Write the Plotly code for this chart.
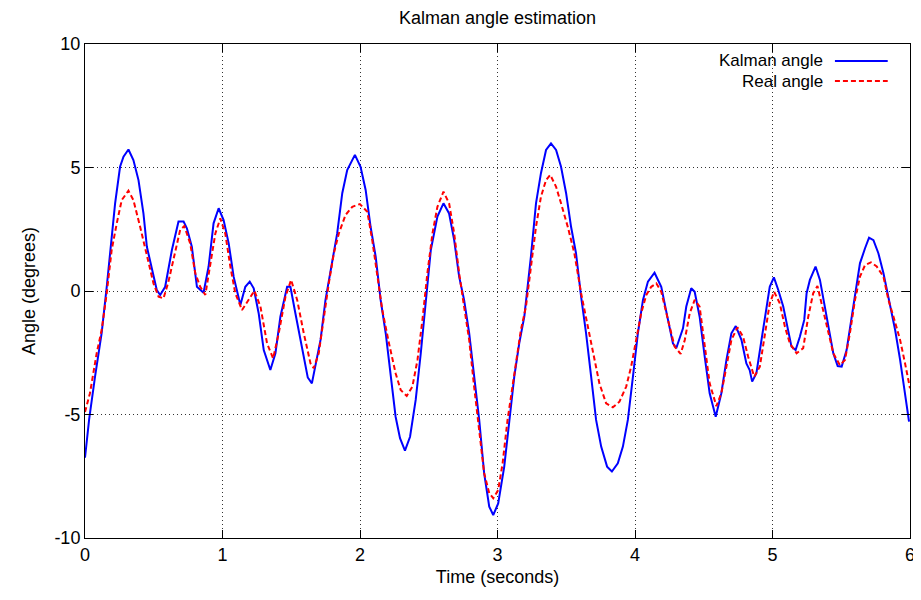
import plotly.graph_objects as go

kalman_t = [0.000,0.030,0.073,0.121,0.158,0.194,0.219,0.255,0.280,0.316,0.352,0.389,0.425,0.450,0.486,0.522,0.547,0.583,0.632,0.680,
            0.717,0.741,0.777,0.814,0.862,0.899,0.935,0.972,1.008,1.045,1.081,1.130,1.166,1.198,1.227,1.263,1.300,1.348,1.385,1.421,
            1.470,1.494,1.530,1.579,1.620,1.650,1.676,1.713,1.749,1.798,1.834,1.871,1.907,1.963,2.004,2.041,2.077,2.114,2.150,2.187,
            2.223,2.259,2.291,2.327,2.364,2.405,2.442,2.478,2.515,2.563,2.607,2.648,2.685,2.721,2.757,2.794,2.830,2.867,2.903,2.940,
            2.969,3.005,3.049,3.085,3.122,3.158,3.195,3.243,3.280,3.316,3.353,3.389,3.426,3.462,3.499,3.535,3.571,3.608,3.644,3.681,
            3.717,3.754,3.797,3.832,3.875,3.912,3.948,3.985,4.021,4.058,4.094,4.142,4.191,4.240,4.276,4.300,4.349,4.373,4.409,4.434,
            4.470,4.507,4.543,4.587,4.628,4.665,4.701,4.733,4.774,4.810,4.834,4.852,4.883,4.920,4.956,4.980,5.010,5.042,5.078,5.102,
            5.138,5.168,5.199,5.231,5.248,5.272,5.313,5.345,5.381,5.418,5.442,5.474,5.503,5.539,5.576,5.612,5.636,5.673,5.702,5.734,
            5.770,5.807,5.843,5.892,5.928,5.964,5.993]
kalman_angle = [-6.75,-5.20,-3.47,-1.71,0.17,2.06,3.55,5.03,5.44,5.73,5.30,4.49,3.14,1.79,0.85,0.04,-0.16,0.17,1.66,2.81,
                2.81,2.54,1.79,0.17,-0.07,0.99,2.74,3.35,2.87,1.93,0.58,-0.57,0.17,0.38,0.11,-0.90,-2.39,-3.20,-2.52,-1.04,
                0.17,0.17,-0.90,-2.30,-3.50,-3.74,-3.06,-1.98,-0.36,1.12,2.33,3.96,4.90,5.51,5.03,4.09,2.60,1.39,-0.36,-1.71,
                -3.33,-5.09,-5.96,-6.46,-5.90,-4.41,-2.52,-0.36,1.66,3.01,3.55,3.14,2.06,0.58,-0.36,-1.71,-3.47,-5.22,-7.38,-8.73,
                -9.07,-8.60,-7.11,-5.22,-3.47,-2.12,-1.04,1.39,3.55,4.77,5.71,5.98,5.71,5.03,3.96,2.60,1.53,-0.23,-1.71,-3.47,
                -5.22,-6.30,-7.11,-7.31,-6.98,-6.30,-5.22,-3.47,-1.71,-0.36,0.38,0.74,0.17,-1.17,-2.12,-2.32,-1.51,-0.63,0.11,-0.03,
                -1.04,-2.66,-4.14,-5.09,-4.14,-2.79,-1.71,-1.42,-1.98,-2.93,-3.20,-3.67,-3.33,-1.98,-0.63,0.17,0.55,0.04,-0.63,-1.31,
                -2.25,-2.39,-1.85,-1.17,-0.09,0.45,0.99,0.45,-0.63,-1.71,-2.52,-3.04,-3.06,-2.39,-1.04,0.31,1.12,1.73,2.16,2.06,
                1.53,0.72,-0.23,-1.58,-2.79,-4.14,-5.29]

real_t = [0.000,0.036,0.085,0.121,0.158,0.194,0.231,0.267,0.316,0.352,0.401,0.450,0.498,0.535,0.571,0.607,0.656,0.692,0.722,0.765,
          0.802,0.838,0.875,0.911,0.948,0.984,1.020,1.057,1.093,1.142,1.190,1.232,1.276,1.324,1.368,1.409,1.458,1.499,1.543,1.591,
          1.640,1.664,1.700,1.737,1.773,1.810,1.846,1.895,1.944,1.999,2.053,2.089,2.126,2.162,2.211,2.259,2.296,2.340,2.381,2.418,
          2.454,2.490,2.527,2.563,2.607,2.648,2.685,2.721,2.757,2.794,2.830,2.867,2.903,2.940,2.969,3.005,3.037,3.073,3.122,3.170,
          3.207,3.243,3.280,3.316,3.353,3.384,3.426,3.462,3.511,3.559,3.608,3.657,3.693,3.741,3.790,3.839,3.887,3.936,3.972,4.009,
          4.045,4.082,4.118,4.155,4.191,4.240,4.288,4.332,4.362,4.398,4.434,4.470,4.507,4.543,4.592,4.628,4.665,4.701,4.745,4.786,
          4.823,4.867,4.908,4.944,4.980,5.012,5.053,5.090,5.126,5.175,5.223,5.260,5.296,5.327,5.369,5.406,5.442,5.490,5.527,5.563,
          5.600,5.636,5.673,5.716,5.758,5.807,5.843,5.880,5.928,5.964,6.000]
real_angle = [-4.90,-4.14,-2.52,-1.58,-0.09,1.66,2.74,3.68,4.06,3.68,2.60,1.39,0.31,-0.23,-0.30,0.38,1.66,2.47,2.63,1.93,
              0.72,0.17,-0.16,0.99,2.33,2.94,2.33,0.99,-0.09,-0.77,-0.36,0.01,-0.63,-2.12,-2.73,-1.71,-0.23,0.45,-0.36,-1.71,
              -2.93,-3.13,-2.52,-1.04,0.31,1.53,2.33,3.08,3.41,3.52,3.21,2.06,0.72,-0.77,-2.12,-3.33,-4.01,-4.25,-3.87,-2.79,
              -1.17,0.72,2.33,3.41,4.02,3.55,2.33,0.72,-0.63,-1.98,-3.87,-5.76,-7.38,-8.19,-8.39,-8.06,-6.98,-5.22,-3.33,-1.58,
              -0.63,1.05,2.60,3.82,4.49,4.70,4.22,3.55,2.60,1.53,-0.09,-1.44,-2.39,-3.74,-4.55,-4.71,-4.48,-3.87,-3.06,-1.98,
              -0.90,-0.16,0.17,0.31,-0.03,-1.17,-2.25,-2.55,-1.98,-0.90,-0.36,-0.63,-2.25,-3.74,-4.66,-4.14,-3.06,-1.98,-1.47,-1.85,
              -2.66,-3.47,-3.06,-1.71,-0.50,-0.03,-0.50,-1.44,-2.12,-2.52,-2.32,-1.04,-0.09,0.20,-0.77,-1.71,-2.52,-3.00,-2.79,-1.71,
              -0.36,0.58,1.05,1.16,0.99,0.58,-0.36,-1.04,-1.98,-2.93,-3.94]

x_ticks = [0, 1, 2, 3, 4, 5, 6]
y_ticks = [-10, -5, 0, 5, 10]
series_names = ["Kalman angle", "Real angle"]
series_colors = ["#0000ff", "#ff0000"]
series_dash = ["solid", "5px,3px"]

FONT = "Liberation Sans, Arial, sans-serif"
FS = 18

fig = go.Figure()
fig.add_trace(go.Scatter(x=kalman_t, y=kalman_angle, mode="lines", name=series_names[0],
                         line=dict(color=series_colors[0], width=2, dash=series_dash[0]), showlegend=False))
fig.add_trace(go.Scatter(x=real_t, y=real_angle, mode="lines", name=series_names[1],
                         line=dict(color=series_colors[1], width=2, dash=series_dash[1]), showlegend=False))

axis_common = dict(showline=True, linecolor="black", linewidth=1, mirror="allticks",
                   ticks="inside", ticklen=8, tickwidth=1, tickcolor="black",
                   showgrid=True, gridcolor="#333333", griddash="1px,3px", gridwidth=1,
                   zeroline=False, automargin=False,
                   tickfont=dict(family=FONT, size=FS, color="black"))

fig.update_xaxes(range=[0, 6], tickvals=x_ticks, ticktext=[str(v) for v in x_ticks],
                 title=dict(text="Time (seconds)", font=dict(family=FONT, size=FS, color="black"), standoff=6),
                 **axis_common)
fig.update_yaxes(range=[-10, 10], tickvals=y_ticks, ticktext=[str(v) for v in y_ticks],
                 title=dict(text="Angle (degrees)", font=dict(family=FONT, size=FS, color="black"), standoff=14),
                 **axis_common)

# legend drawn gnuplot-style: text on the left, line sample on the right
legend_y = [0.9656, 0.9251]
for i, name in enumerate(series_names):
    yy = legend_y[i]
    fig.add_annotation(xref="paper", yref="paper", x=0.8945, y=yy, text=name, showarrow=False,
                       xanchor="right", yanchor="middle", xshift=2,
                       font=dict(family=FONT, size=17, color="black"))
    fig.add_shape(type="line", xref="paper", yref="paper", x0=0.909, x1=0.973, y0=yy, y1=yy,
                  line=dict(color=series_colors[i], width=2, dash=series_dash[i]))

# the page body adds an 8px margin, so the figure is sized/offset to compensate
fig.update_layout(
    width=913, height=592,
    margin=dict(l=77, r=11, t=36, b=62, autoexpand=False),
    paper_bgcolor="white", plot_bgcolor="white",
    title=dict(text="Kalman angle estimation", x=0.5, xanchor="center", xref="paper",
               y=0.9831, yref="container", yanchor="middle",
               font=dict(family=FONT, size=FS, color="black")),
    showlegend=False,
)

fig.write_html("out.html")
